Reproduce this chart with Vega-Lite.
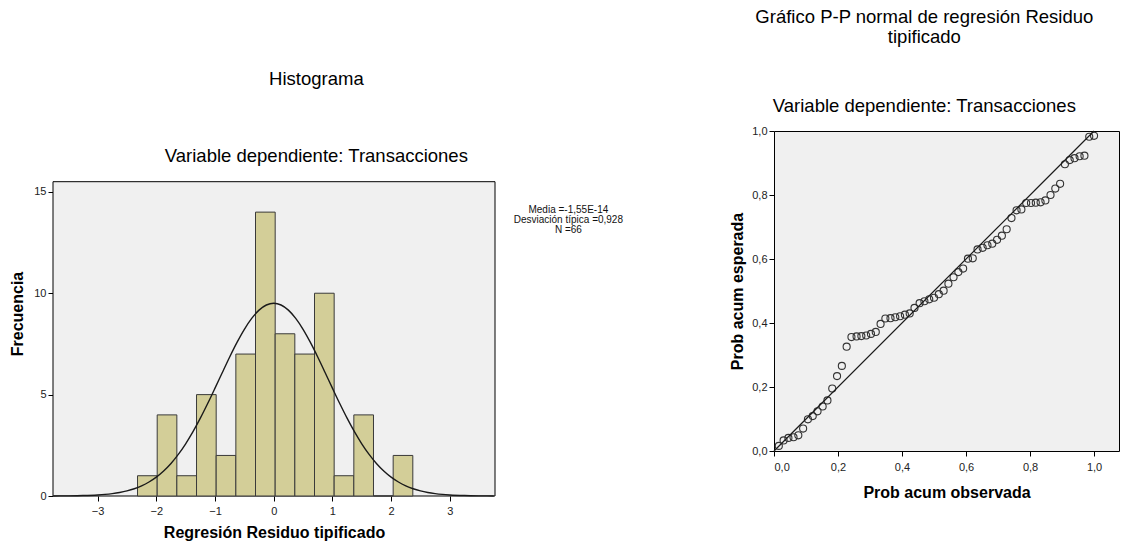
{
  "$schema": "https://vega.github.io/schema/vega-lite/v6.json",
  "background": "white",
  "padding": {"left": 9, "top": 7, "right": 5, "bottom": 5},
  "bounds": "flush",
  "spacing": 279,
  "hconcat": [
    {
      "width": 442,
      "height": 365,
      "view": {"fill": null, "stroke": null},
      "title": {
        "text": "Histograma",
        "subtitle": "Variable dependiente: Transacciones",
        "subtitlePadding": 58,
        "offset": -34
      },
      "layer": [
        {
          "data": {"values": [{"frame": "plot"}]},
          "mark": {"type": "rect", "fill": "#f0f0f0", "stroke": "#000", "strokeWidth": 1},
          "encoding": {
            "x": {"datum": -3.76, "type": "quantitative",
                  "scale": {"domain": [-3.76, 3.77], "nice": false, "zero": false},
                  "axis": {"title": "Regresión Residuo tipificado", "values": [-3, -2, -1, 0, 1, 2, 3], "format": "d",
                           "labelPadding": 4, "titlePadding": 8}},
            "x2": {"datum": 3.77},
            "y": {"datum": 0, "type": "quantitative",
                  "scale": {"domain": [0, 18.0], "nice": false},
                  "axis": {"title": "Frecuencia", "values": [0, 5, 10, 15], "titlePadding": 8}},
            "y2": {"datum": 15.5}
          }
        },
        {
          "data": {"values": [
            {"bin_start": -2.32, "bin_end": -1.985, "count": 1},
            {"bin_start": -1.985, "bin_end": -1.65, "count": 4},
            {"bin_start": -1.65, "bin_end": -1.315, "count": 1},
            {"bin_start": -1.315, "bin_end": -0.98, "count": 5},
            {"bin_start": -0.98, "bin_end": -0.645, "count": 2},
            {"bin_start": -0.645, "bin_end": -0.31, "count": 7},
            {"bin_start": -0.31, "bin_end": 0.025, "count": 14},
            {"bin_start": 0.025, "bin_end": 0.36, "count": 8},
            {"bin_start": 0.36, "bin_end": 0.695, "count": 7},
            {"bin_start": 0.695, "bin_end": 1.03, "count": 10},
            {"bin_start": 1.03, "bin_end": 1.365, "count": 1},
            {"bin_start": 1.365, "bin_end": 1.70, "count": 4},
            {"bin_start": 1.70, "bin_end": 2.035, "count": 0},
            {"bin_start": 2.035, "bin_end": 2.37, "count": 2}
          ]},
          "mark": {"type": "rect", "fill": "#d3ce98", "stroke": "#3a3a3a", "strokeWidth": 1},
          "encoding": {
            "x": {"field": "bin_start", "type": "quantitative"},
            "x2": {"field": "bin_end"},
            "y": {"field": "count", "type": "quantitative"},
            "y2": {"datum": 0}
          }
        },
        {
          "data": {"values": [
            {"z": -3.75, "f": 0.003}, {"z": -3.5, "f": 0.008}, {"z": -3.25, "f": 0.021}, {"z": -3.0, "f": 0.051},
            {"z": -2.875, "f": 0.078}, {"z": -2.75, "f": 0.118}, {"z": -2.625, "f": 0.174}, {"z": -2.5, "f": 0.252},
            {"z": -2.375, "f": 0.359}, {"z": -2.25, "f": 0.503}, {"z": -2.125, "f": 0.691}, {"z": -2.0, "f": 0.932},
            {"z": -1.875, "f": 1.234}, {"z": -1.75, "f": 1.606}, {"z": -1.625, "f": 2.052}, {"z": -1.5, "f": 2.574},
            {"z": -1.375, "f": 3.171}, {"z": -1.25, "f": 3.837}, {"z": -1.125, "f": 4.559}, {"z": -1.0, "f": 5.319},
            {"z": -0.875, "f": 6.094}, {"z": -0.75, "f": 6.857}, {"z": -0.625, "f": 7.576}, {"z": -0.5, "f": 8.221},
            {"z": -0.375, "f": 8.760}, {"z": -0.25, "f": 9.167}, {"z": -0.125, "f": 9.419}, {"z": 0.0, "f": 9.505},
            {"z": 0.125, "f": 9.419}, {"z": 0.25, "f": 9.167}, {"z": 0.375, "f": 8.760}, {"z": 0.5, "f": 8.221},
            {"z": 0.625, "f": 7.576}, {"z": 0.75, "f": 6.857}, {"z": 0.875, "f": 6.094}, {"z": 1.0, "f": 5.319},
            {"z": 1.125, "f": 4.559}, {"z": 1.25, "f": 3.837}, {"z": 1.375, "f": 3.171}, {"z": 1.5, "f": 2.574},
            {"z": 1.625, "f": 2.052}, {"z": 1.75, "f": 1.606}, {"z": 1.875, "f": 1.234}, {"z": 2.0, "f": 0.932},
            {"z": 2.125, "f": 0.691}, {"z": 2.25, "f": 0.503}, {"z": 2.375, "f": 0.359}, {"z": 2.5, "f": 0.252},
            {"z": 2.625, "f": 0.174}, {"z": 2.75, "f": 0.118}, {"z": 2.875, "f": 0.078}, {"z": 3.0, "f": 0.051},
            {"z": 3.25, "f": 0.021}, {"z": 3.5, "f": 0.008}, {"z": 3.75, "f": 0.003}
          ]},
          "mark": {"type": "line", "color": "#1a1a1a", "strokeWidth": 1.4, "interpolate": "monotone"},
          "encoding": {
            "x": {"field": "z", "type": "quantitative"},
            "y": {"field": "f", "type": "quantitative"}
          }
        },
        {
          "data": {"values": [{"label": "stats"}]},
          "mark": {"type": "text", "text": ["Media =-1,55E-14", "Desviación típica =0,928", "N =66"],
                   "fontSize": 10, "lineHeight": 10, "align": "center", "baseline": "middle", "color": "#111"},
          "encoding": {
            "x": {"datum": 5.02, "type": "quantitative"},
            "y": {"datum": 14.09, "type": "quantitative"}
          }
        }
      ]
    },
    {
      "width": 345,
      "height": 320,
      "title": {
        "text": ["Gráfico P-P normal de regresión Residuo", "tipificado"],
        "lineHeight": 20,
        "subtitle": "Variable dependiente: Transacciones",
        "subtitlePadding": 50,
        "offset": 10
      },
      "layer": [
        {
          "data": {"values": [
            {"obs": 0.015, "esp": 0.016}, {"obs": 0.030, "esp": 0.033}, {"obs": 0.045, "esp": 0.041}, {"obs": 0.061, "esp": 0.043},
            {"obs": 0.076, "esp": 0.049}, {"obs": 0.091, "esp": 0.070}, {"obs": 0.106, "esp": 0.099}, {"obs": 0.121, "esp": 0.109},
            {"obs": 0.136, "esp": 0.124}, {"obs": 0.152, "esp": 0.139}, {"obs": 0.167, "esp": 0.158}, {"obs": 0.182, "esp": 0.195},
            {"obs": 0.197, "esp": 0.234}, {"obs": 0.212, "esp": 0.266}, {"obs": 0.227, "esp": 0.326}, {"obs": 0.242, "esp": 0.356},
            {"obs": 0.258, "esp": 0.358}, {"obs": 0.273, "esp": 0.359}, {"obs": 0.288, "esp": 0.361}, {"obs": 0.303, "esp": 0.366},
            {"obs": 0.318, "esp": 0.372}, {"obs": 0.333, "esp": 0.397}, {"obs": 0.348, "esp": 0.414}, {"obs": 0.364, "esp": 0.415},
            {"obs": 0.379, "esp": 0.418}, {"obs": 0.394, "esp": 0.421}, {"obs": 0.409, "esp": 0.426}, {"obs": 0.424, "esp": 0.430},
            {"obs": 0.439, "esp": 0.447}, {"obs": 0.455, "esp": 0.462}, {"obs": 0.470, "esp": 0.468}, {"obs": 0.485, "esp": 0.474},
            {"obs": 0.500, "esp": 0.479}, {"obs": 0.515, "esp": 0.490}, {"obs": 0.530, "esp": 0.501}, {"obs": 0.545, "esp": 0.523},
            {"obs": 0.561, "esp": 0.543}, {"obs": 0.576, "esp": 0.559}, {"obs": 0.591, "esp": 0.570}, {"obs": 0.606, "esp": 0.601},
            {"obs": 0.621, "esp": 0.602}, {"obs": 0.636, "esp": 0.630}, {"obs": 0.652, "esp": 0.635}, {"obs": 0.667, "esp": 0.643},
            {"obs": 0.682, "esp": 0.648}, {"obs": 0.697, "esp": 0.660}, {"obs": 0.712, "esp": 0.673}, {"obs": 0.727, "esp": 0.693},
            {"obs": 0.742, "esp": 0.728}, {"obs": 0.758, "esp": 0.752}, {"obs": 0.773, "esp": 0.755}, {"obs": 0.788, "esp": 0.775},
            {"obs": 0.803, "esp": 0.775}, {"obs": 0.818, "esp": 0.776}, {"obs": 0.833, "esp": 0.777}, {"obs": 0.848, "esp": 0.783},
            {"obs": 0.864, "esp": 0.800}, {"obs": 0.879, "esp": 0.820}, {"obs": 0.894, "esp": 0.835}, {"obs": 0.909, "esp": 0.896},
            {"obs": 0.924, "esp": 0.909}, {"obs": 0.939, "esp": 0.915}, {"obs": 0.955, "esp": 0.921}, {"obs": 0.970, "esp": 0.923},
            {"obs": 0.985, "esp": 0.982}, {"obs": 1.000, "esp": 0.985}
          ]},
          "mark": {"type": "point", "filled": false, "size": 50, "stroke": "#333", "strokeWidth": 1.1, "opacity": 1},
          "encoding": {
            "x": {"field": "obs", "type": "quantitative",
                  "scale": {"domain": [0, 1.078], "nice": false},
                  "axis": {"title": "Prob acum observada", "values": [0, 0.2, 0.4, 0.6, 0.8, 1.0],
                           "labelExpr": "replace(format(datum.value, '.1f'), '.', ',')", "labelPadding": 5, "titlePadding": 12}},
            "y": {"field": "esp", "type": "quantitative",
                  "scale": {"domain": [0, 1], "nice": false},
                  "axis": {"title": "Prob acum esperada", "values": [0, 0.2, 0.4, 0.6, 0.8, 1.0],
                           "labelExpr": "replace(format(datum.value, '.1f'), '.', ',')", "titlePadding": 6}}
          }
        },
        {
          "data": {"values": [{"obs": 0, "esp": 0}, {"obs": 1, "esp": 1}]},
          "mark": {"type": "line", "color": "#1a1a1a", "strokeWidth": 1.2},
          "encoding": {
            "x": {"field": "obs", "type": "quantitative"},
            "y": {"field": "esp", "type": "quantitative"}
          }
        }
      ]
    }
  ],
  "config": {
    "font": "Liberation Sans",
    "view": {"fill": "#f0f0f0", "stroke": "#000", "strokeWidth": 1},
    "axis": {"grid": false, "domain": false, "tickColor": "#000", "tickSize": 5, "labelFontSize": 11,
             "labelColor": "#222", "labelPadding": 2, "titleFontSize": 16, "titleFontWeight": "bold", "titleColor": "#000"},
    "title": {"fontSize": 18.5, "fontWeight": "normal", "color": "#000", "subtitleFontSize": 18.5,
              "subtitleFontWeight": "normal", "subtitleColor": "#000", "anchor": "middle", "frame": "bounds"}
  }
}
